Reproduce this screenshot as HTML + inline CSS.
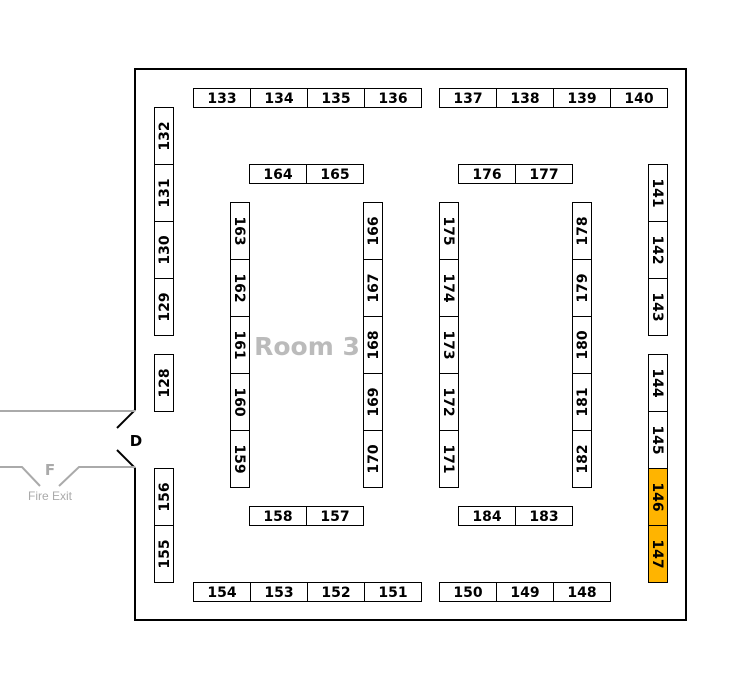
<!DOCTYPE html>
<html><head><meta charset="utf-8"><style>
html,body{margin:0;padding:0;background:#fff;width:755px;height:689px;overflow:hidden}
svg text{font-family:"DejaVu Sans","Liberation Sans",sans-serif}
.b{fill:#fff;stroke:#000;stroke-width:1}
.o{fill:#ffb400;stroke:#000;stroke-width:1}
.t{font-size:14px;font-weight:bold;fill:#000;text-anchor:middle}
</style></head><body>
<svg width="755" height="689" viewBox="0 0 755 689" xmlns="http://www.w3.org/2000/svg">
<!-- walls -->
<path d="M135,410 L135,69 L686,69 L686,620 L135,620 L135,468" fill="none" stroke="#000" stroke-width="2"/>
<path d="M135,410 L117,428 M117,450 L135,468" stroke="#000" stroke-width="2" fill="none"/>
<text x="136" y="446" class="t" style="font-size:15px">D</text>
<!-- fire exit -->
<path d="M0,411 L135,411 M0,467 L22,467 L40,486 M59,486 L79,467 L135,467" stroke="#aaa" stroke-width="2" fill="none"/>
<text x="50" y="475" text-anchor="middle" style="font-size:15px;font-weight:bold;fill:#aaa">F</text>
<text x="50" y="500" text-anchor="middle" style="font-size:12px;fill:#aaa;font-family:'Liberation Sans',sans-serif">Fire Exit</text>
<text x="307" y="355" text-anchor="middle" style="font-size:25px;font-weight:bold;fill:#bbb">Room 3</text>

<!-- horizontal booths -->
<g>
<rect class="b" x="193.5" y="88.5" width="57" height="19"/><text class="t" x="222" y="103">133</text>
<rect class="b" x="250.5" y="88.5" width="57" height="19"/><text class="t" x="279" y="103">134</text>
<rect class="b" x="307.5" y="88.5" width="57" height="19"/><text class="t" x="336" y="103">135</text>
<rect class="b" x="364.5" y="88.5" width="57" height="19"/><text class="t" x="393" y="103">136</text>
<rect class="b" x="439.5" y="88.5" width="57" height="19"/><text class="t" x="468" y="103">137</text>
<rect class="b" x="496.5" y="88.5" width="57" height="19"/><text class="t" x="525" y="103">138</text>
<rect class="b" x="553.5" y="88.5" width="57" height="19"/><text class="t" x="582" y="103">139</text>
<rect class="b" x="610.5" y="88.5" width="57" height="19"/><text class="t" x="639" y="103">140</text>

<rect class="b" x="249.5" y="164.5" width="57" height="19"/><text class="t" x="278" y="179">164</text>
<rect class="b" x="306.5" y="164.5" width="57" height="19"/><text class="t" x="335" y="179">165</text>
<rect class="b" x="458.5" y="164.5" width="57" height="19"/><text class="t" x="487" y="179">176</text>
<rect class="b" x="515.5" y="164.5" width="57" height="19"/><text class="t" x="544" y="179">177</text>

<rect class="b" x="249.5" y="506.5" width="57" height="19"/><text class="t" x="278" y="521">158</text>
<rect class="b" x="306.5" y="506.5" width="57" height="19"/><text class="t" x="335" y="521">157</text>
<rect class="b" x="458.5" y="506.5" width="57" height="19"/><text class="t" x="487" y="521">184</text>
<rect class="b" x="515.5" y="506.5" width="57" height="19"/><text class="t" x="544" y="521">183</text>

<rect class="b" x="193.5" y="582.5" width="57" height="19"/><text class="t" x="222" y="597">154</text>
<rect class="b" x="250.5" y="582.5" width="57" height="19"/><text class="t" x="279" y="597">153</text>
<rect class="b" x="307.5" y="582.5" width="57" height="19"/><text class="t" x="336" y="597">152</text>
<rect class="b" x="364.5" y="582.5" width="57" height="19"/><text class="t" x="393" y="597">151</text>
<rect class="b" x="439.5" y="582.5" width="57" height="19"/><text class="t" x="468" y="597">150</text>
<rect class="b" x="496.5" y="582.5" width="57" height="19"/><text class="t" x="525" y="597">149</text>
<rect class="b" x="553.5" y="582.5" width="57" height="19"/><text class="t" x="582" y="597">148</text>
</g>

<!-- left wall column (rotate -90) -->
<rect class="b" x="154.5" y="107.5" width="19" height="57"/><text class="t" transform="translate(164,136) rotate(-90)" dy="5">132</text>
<rect class="b" x="154.5" y="164.5" width="19" height="57"/><text class="t" transform="translate(164,193) rotate(-90)" dy="5">131</text>
<rect class="b" x="154.5" y="221.5" width="19" height="57"/><text class="t" transform="translate(164,250) rotate(-90)" dy="5">130</text>
<rect class="b" x="154.5" y="278.5" width="19" height="57"/><text class="t" transform="translate(164,307) rotate(-90)" dy="5">129</text>
<rect class="b" x="154.5" y="354.5" width="19" height="57"/><text class="t" transform="translate(164,383) rotate(-90)" dy="5">128</text>
<rect class="b" x="154.5" y="468.5" width="19" height="57"/><text class="t" transform="translate(164,497) rotate(-90)" dy="5">156</text>
<rect class="b" x="154.5" y="525.5" width="19" height="57"/><text class="t" transform="translate(164,554) rotate(-90)" dy="5">155</text>

<!-- 163-159 (rotate 90) -->
<rect class="b" x="230.5" y="202.5" width="19" height="57"/><text class="t" transform="translate(240,231) rotate(90)" dy="5">163</text>
<rect class="b" x="230.5" y="259.5" width="19" height="57"/><text class="t" transform="translate(240,288) rotate(90)" dy="5">162</text>
<rect class="b" x="230.5" y="316.5" width="19" height="57"/><text class="t" transform="translate(240,345) rotate(90)" dy="5">161</text>
<rect class="b" x="230.5" y="373.5" width="19" height="57"/><text class="t" transform="translate(240,402) rotate(90)" dy="5">160</text>
<rect class="b" x="230.5" y="430.5" width="19" height="57"/><text class="t" transform="translate(240,459) rotate(90)" dy="5">159</text>

<!-- 166-170 (rotate -90) -->
<rect class="b" x="363.5" y="202.5" width="19" height="57"/><text class="t" transform="translate(373,231) rotate(-90)" dy="5">166</text>
<rect class="b" x="363.5" y="259.5" width="19" height="57"/><text class="t" transform="translate(373,288) rotate(-90)" dy="5">167</text>
<rect class="b" x="363.5" y="316.5" width="19" height="57"/><text class="t" transform="translate(373,345) rotate(-90)" dy="5">168</text>
<rect class="b" x="363.5" y="373.5" width="19" height="57"/><text class="t" transform="translate(373,402) rotate(-90)" dy="5">169</text>
<rect class="b" x="363.5" y="430.5" width="19" height="57"/><text class="t" transform="translate(373,459) rotate(-90)" dy="5">170</text>

<!-- 175-171 (rotate 90) -->
<rect class="b" x="439.5" y="202.5" width="19" height="57"/><text class="t" transform="translate(449,231) rotate(90)" dy="5">175</text>
<rect class="b" x="439.5" y="259.5" width="19" height="57"/><text class="t" transform="translate(449,288) rotate(90)" dy="5">174</text>
<rect class="b" x="439.5" y="316.5" width="19" height="57"/><text class="t" transform="translate(449,345) rotate(90)" dy="5">173</text>
<rect class="b" x="439.5" y="373.5" width="19" height="57"/><text class="t" transform="translate(449,402) rotate(90)" dy="5">172</text>
<rect class="b" x="439.5" y="430.5" width="19" height="57"/><text class="t" transform="translate(449,459) rotate(90)" dy="5">171</text>

<!-- 178-182 (rotate -90) -->
<rect class="b" x="572.5" y="202.5" width="19" height="57"/><text class="t" transform="translate(582,231) rotate(-90)" dy="5">178</text>
<rect class="b" x="572.5" y="259.5" width="19" height="57"/><text class="t" transform="translate(582,288) rotate(-90)" dy="5">179</text>
<rect class="b" x="572.5" y="316.5" width="19" height="57"/><text class="t" transform="translate(582,345) rotate(-90)" dy="5">180</text>
<rect class="b" x="572.5" y="373.5" width="19" height="57"/><text class="t" transform="translate(582,402) rotate(-90)" dy="5">181</text>
<rect class="b" x="572.5" y="430.5" width="19" height="57"/><text class="t" transform="translate(582,459) rotate(-90)" dy="5">182</text>

<!-- right wall (rotate 90) -->
<rect class="b" x="648.5" y="164.5" width="19" height="57"/><text class="t" transform="translate(658,193) rotate(90)" dy="5">141</text>
<rect class="b" x="648.5" y="221.5" width="19" height="57"/><text class="t" transform="translate(658,250) rotate(90)" dy="5">142</text>
<rect class="b" x="648.5" y="278.5" width="19" height="57"/><text class="t" transform="translate(658,307) rotate(90)" dy="5">143</text>
<rect class="b" x="648.5" y="354.5" width="19" height="57"/><text class="t" transform="translate(658,383) rotate(90)" dy="5">144</text>
<rect class="b" x="648.5" y="411.5" width="19" height="57"/><text class="t" transform="translate(658,440) rotate(90)" dy="5">145</text>
<rect class="o" x="648.5" y="468.5" width="19" height="57"/><text class="t" transform="translate(658,497) rotate(90)" dy="5">146</text>
<rect class="o" x="648.5" y="525.5" width="19" height="57"/><text class="t" transform="translate(658,554) rotate(90)" dy="5">147</text>
</svg>
</body></html>
